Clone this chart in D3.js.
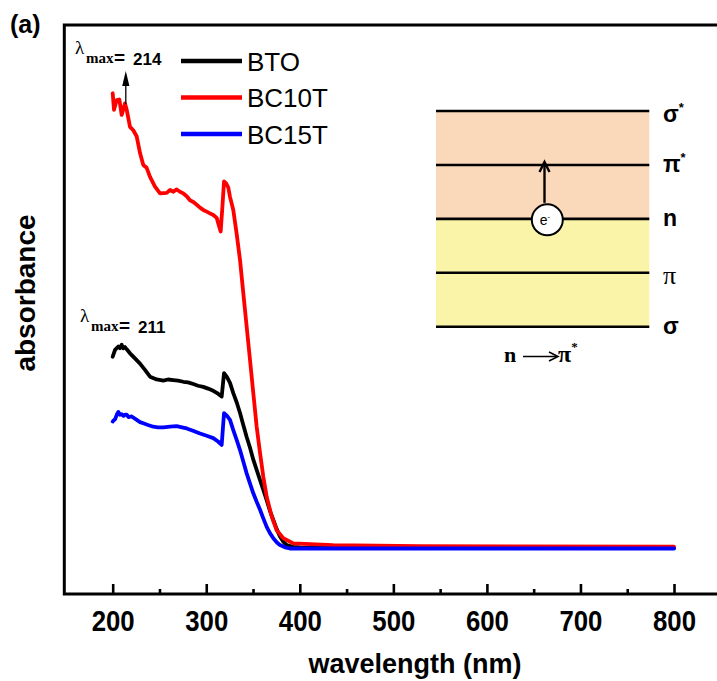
<!DOCTYPE html>
<html>
<head>
<meta charset="utf-8">
<script src="https://cdn.jsdelivr.net/npm/d3@7"></script>
<style>
  html, body { margin: 0; padding: 0; background: #fff; }
  svg { display: block; }
</style>
</head>
<body>
<svg id="chart" width="717" height="681"></svg>
<script>
// ---------------- DATA ----------------
const seriesNames = ["BTO", "BC10T", "BC15T"];
const seriesColors = ["#000000", "#ff0000", "#0000ff"];

const btoData = [[200,0.417],[202.5,0.429],[206.0,0.435],[207.8,0.432],[209.6,0.438],[211.3,0.432],[213.1,0.434],[215.0,0.430],[218.5,0.423],[223.8,0.414],[229.2,0.405],[234.5,0.394],[239.9,0.382],[247.0,0.377],[254.1,0.375],[259.1,0.377],[264.8,0.376],[269.8,0.375],[275.5,0.373],[280.5,0.372],[286.2,0.369],[291.2,0.366],[296.8,0.364],[301.9,0.361],[307.5,0.357],[312.6,0.352],[316.5,0.347],[319.0,0.388],[322.2,0.381],[325.4,0.371],[328.9,0.353],[332.5,0.337],[336.1,0.318],[339.6,0.297],[343.2,0.276],[346.8,0.257],[350.3,0.236],[353.9,0.218],[357.5,0.200],[361.0,0.183],[364.6,0.165],[368.1,0.146],[371.7,0.130],[375.3,0.114],[378.8,0.101],[382.4,0.092],[386.0,0.086],[392.7,0.083],[400.2,0.082],[800,0.081]];

const bc10tData = [[200,0.880],[201.4,0.851],[204.3,0.868],[207.1,0.869],[209.6,0.842],[213.1,0.862],[215.0,0.851],[218.5,0.821],[222.0,0.815],[225.7,0.804],[229.2,0.775],[232.7,0.754],[236.3,0.749],[239.9,0.733],[245.2,0.716],[250.6,0.704],[257.7,0.705],[261.3,0.710],[264.8,0.707],[268.4,0.711],[271.9,0.707],[275.5,0.704],[279.1,0.699],[282.6,0.692],[286.2,0.689],[289.8,0.684],[293.3,0.679],[296.8,0.675],[300.5,0.672],[304.0,0.669],[307.5,0.666],[311.2,0.661],[313.1,0.650],[315.4,0.637],[317.4,0.684],[319.0,0.725],[321.1,0.722],[323.6,0.714],[325.4,0.698],[328.9,0.675],[332.5,0.633],[336.1,0.587],[339.6,0.529],[343.2,0.470],[346.8,0.411],[350.3,0.353],[353.9,0.294],[357.5,0.248],[361.0,0.206],[364.6,0.171],[370.0,0.136],[375.3,0.112],[382.4,0.098],[393.1,0.089],[435.5,0.086],[528.5,0.084],[800,0.083]];

const bc15tData = [[200,0.303],[200.9,0.305],[202.5,0.307],[204.6,0.316],[206.0,0.320],[207.8,0.315],[209.6,0.316],[211.5,0.313],[213.1,0.315],[215.0,0.315],[216.9,0.311],[220.3,0.312],[225.7,0.306],[229.2,0.302],[232.7,0.300],[237.7,0.297],[243.4,0.294],[248.4,0.293],[254.1,0.293],[261.3,0.294],[268.4,0.295],[274.1,0.293],[279.1,0.291],[285.8,0.287],[293.3,0.282],[300.5,0.278],[307.5,0.274],[312.6,0.268],[316.5,0.262],[319.0,0.318],[322.2,0.313],[325.4,0.306],[328.9,0.288],[332.5,0.271],[336.1,0.253],[339.6,0.233],[343.2,0.212],[346.8,0.194],[350.3,0.177],[353.9,0.162],[357.5,0.148],[361.0,0.133],[364.6,0.118],[368.1,0.107],[371.7,0.098],[375.3,0.091],[378.8,0.086],[384.2,0.082],[389.5,0.080],[800,0.080]];

const majorTicks = [200, 300, 400, 500, 600, 700, 800];
const minorTicks = [250, 350, 450, 550, 650, 750];
const lambdaMaxNm = [214, 211];          // BC10T, BTO
const lambdaMaxLabels = ["214", "211"];
const energyLevels = ["σ", "π", "n", "π", "σ"];
const energyStars = [true, true, false, false, false];

// ---------------- SETUP ----------------
const sans = "'Liberation Sans', Arial, Helvetica, sans-serif";
const serif = "'Liberation Serif', 'Times New Roman', serif";
const svg = d3.select("#chart");

const x = d3.scaleLinear().domain([200, 800]).range([112.7, 674]);
const y = d3.scaleLinear().domain([0, 1]).range([594, 25]);

// Frame (left, top, bottom; right side off-canvas)
svg.append("rect")
  .attr("x", 64.3).attr("y", 25)
  .attr("width", 720).attr("height", 569)
  .attr("fill", "none").attr("stroke", "#000").attr("stroke-width", 3);

// Axis ticks
const gx = svg.append("g").attr("transform", "translate(0,594)");
gx.call(d3.axisBottom(x).tickValues(majorTicks).tickSize(-10).tickPadding(16).tickFormat(d3.format("d")));
const gxm = svg.append("g").attr("transform", "translate(0,594)");
gxm.call(d3.axisBottom(x).tickValues(minorTicks).tickSize(-5).tickFormat(""));
[gx, gxm].forEach(g => {
  g.select(".domain").remove();
  g.selectAll(".tick line").attr("stroke", "#000").attr("stroke-width", 2.6);
});
gx.selectAll(".tick text")
  .attr("font-family", sans).attr("font-weight", "bold").attr("font-size", 29)
  .attr("fill", "#000")
  .attr("textLength", 43).attr("lengthAdjust", "spacingAndGlyphs");

// Axis titles
svg.append("text")
  .attr("x", 415).attr("y", 673)
  .attr("text-anchor", "middle")
  .attr("font-family", sans).attr("font-weight", "bold").attr("font-size", 27)
  .text("wavelength (nm)");

svg.append("text")
  .attr("transform", "translate(35,293) rotate(-90)")
  .attr("text-anchor", "middle")
  .attr("font-family", sans).attr("font-weight", "bold").attr("font-size", 28)
  .text("absorbance");

svg.append("text")
  .attr("x", 10).attr("y", 33)
  .attr("font-family", sans).attr("font-weight", "bold").attr("font-size", 25)
  .text("(a)");

// ---------------- INSET ----------------
const insetLeft = 436, insetRight = 649.3;
const ly = d3.scalePoint().domain(d3.range(energyLevels.length)).range([111, 326.7]);

svg.append("rect")
  .attr("x", insetLeft).attr("y", ly(0))
  .attr("width", insetRight - insetLeft).attr("height", ly(2) - ly(0))
  .attr("fill", "#fad9ba");
svg.append("rect")
  .attr("x", insetLeft).attr("y", ly(2))
  .attr("width", insetRight - insetLeft).attr("height", ly(4) - ly(2))
  .attr("fill", "#faf4a9");

energyLevels.forEach((lab, i) => {
  svg.append("line")
    .attr("x1", insetLeft).attr("x2", insetRight)
    .attr("y1", ly(i)).attr("y2", ly(i))
    .attr("stroke", "#000").attr("stroke-width", 2.6);
  const isThinPi = (i === 3);
  const t = svg.append("text")
    .attr("x", 663).attr("y", ly(i) + (i === 0 || i === 3 ? 11 : 7))
    .attr("font-family", isThinPi ? serif : sans)
    .attr("font-weight", isThinPi ? "normal" : "bold")
    .attr("font-size", isThinPi ? 26 : 23)
    .text(lab);
  if (energyStars[i]) {
    t.append("tspan").attr("dy", -10).attr("font-size", 13).text("*");
  }
});

// electron transition arrow
const eX = 544.5;
svg.append("line")
  .attr("x1", eX).attr("x2", eX)
  .attr("y1", ly(2) - 16).attr("y2", ly(1) - 2)
  .attr("stroke", "#000").attr("stroke-width", 2.4);
svg.append("path")
  .attr("d", `M${eX - 5},${ly(1) + 7} L${eX},${ly(1) - 3} L${eX + 5},${ly(1) + 7}`)
  .attr("fill", "none").attr("stroke", "#000").attr("stroke-width", 2.4);

svg.append("circle")
  .attr("cx", 547.3).attr("cy", ly(2) + 1)
  .attr("r", 15.5)
  .attr("fill", "#fff").attr("stroke", "#000").attr("stroke-width", 2);
const et = svg.append("text")
  .attr("x", 545).attr("y", ly(2) + 6)
  .attr("text-anchor", "middle")
  .attr("font-family", sans).attr("font-size", 14)
  .text("e");
et.append("tspan").attr("dy", -6).attr("font-size", 8).text("-");

// n -> pi* caption
svg.append("text")
  .attr("x", 504).attr("y", 362)
  .attr("font-family", serif).attr("font-weight", "bold").attr("font-size", 22)
  .text("n");
svg.append("line")
  .attr("x1", 523).attr("x2", 556)
  .attr("y1", 356.5).attr("y2", 356.5)
  .attr("stroke", "#000").attr("stroke-width", 1.6);
svg.append("path")
  .attr("d", "M549,352 L558,356.5 L549,361")
  .attr("fill", "none").attr("stroke", "#000").attr("stroke-width", 1.6);
const cap = svg.append("text")
  .attr("x", 558).attr("y", 362)
  .attr("font-family", serif).attr("font-weight", "bold").attr("font-size", 24)
  .text("π");
cap.append("tspan").attr("dy", -11).attr("font-size", 13).text("*");

// ---------------- CURVES ----------------
const line = d3.line().x(d => x(d[0])).y(d => y(d[1]));
const allData = [btoData, bc10tData, bc15tData];
allData.forEach((data, i) => {
  svg.append("path")
    .datum(data)
    .attr("d", line)
    .attr("fill", "none")
    .attr("stroke", seriesColors[i])
    .attr("stroke-width", 3.8)
    .attr("stroke-linejoin", "round")
    .attr("stroke-linecap", "round");
});

// ---------------- LEGEND ----------------
const legendY = d3.scalePoint().domain(seriesNames).range([61, 134]);
seriesNames.forEach((name, i) => {
  svg.append("line")
    .attr("x1", 181).attr("x2", 242)
    .attr("y1", legendY(name)).attr("y2", legendY(name))
    .attr("stroke", seriesColors[i]).attr("stroke-width", 4.3);
  svg.append("text")
    .attr("x", 247).attr("y", legendY(name) + 9.5)
    .attr("font-family", sans).attr("font-size", 26)
    .text(name);
});

// ---------------- LAMBDA MAX ANNOTATIONS ----------------
function lambdaLabel(x0, base, value) {
  svg.append("text")
    .attr("x", x0).attr("y", base - 11)
    .attr("font-family", serif).attr("font-size", 19)
    .text("λ");
  svg.append("text")
    .attr("x", x0 + 11).attr("y", base - 2)
    .attr("font-family", serif).attr("font-weight", "bold").attr("font-size", 15)
    .text("max");
  svg.append("text")
    .attr("x", x0 + 39).attr("y", base - 1)
    .attr("font-family", sans).attr("font-weight", "bold").attr("font-size", 19)
    .text("=");
  svg.append("text")
    .attr("x", x0 + 58).attr("y", base)
    .attr("font-family", sans).attr("font-weight", "bold").attr("font-size", 17)
    .text(value);
}
lambdaLabel(75, 65, lambdaMaxLabels[0]);
lambdaLabel(80, 333, lambdaMaxLabels[1]);

// arrow at BC10T lambda max
const ax = x(lambdaMaxNm[0]);
svg.append("line")
  .attr("x1", ax).attr("x2", ax)
  .attr("y1", 104).attr("y2", 82)
  .attr("stroke", "#000").attr("stroke-width", 1.3);
svg.append("path")
  .attr("d", `M${ax - 3.6},${86} L${ax},${71} L${ax + 3.6},${86} Z`)
  .attr("fill", "#000");
</script>
</body>
</html>
